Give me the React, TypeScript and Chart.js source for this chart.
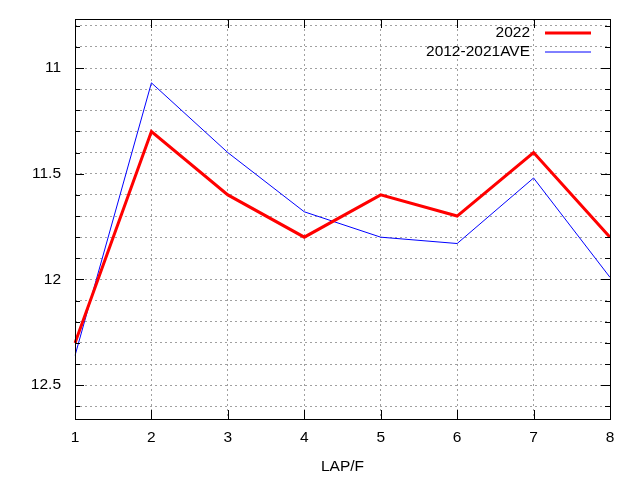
import React, { useEffect, useRef } from "react";
import { Chart, registerables } from "chart.js";

Chart.register(...registerables);

const CATEGORIES = ["1", "2", "3", "4", "5", "6", "7", "8"];
const SERIES_2022 = [12.3, 11.3, 11.6, 11.8, 11.6, 11.7, 11.4, 11.8];
const SERIES_AVE = [12.36, 11.07, 11.4, 11.68, 11.8, 11.83, 11.52, 11.99];
const Y_GRID = [10.8, 10.9, 11.0, 11.1, 11.2, 11.3, 11.4, 11.5, 11.6, 11.7, 11.8, 11.9, 12.0, 12.1, 12.2, 12.3, 12.4, 12.5, 12.6];
const Y_LABELS = [11, 11.5, 12, 12.5];
const Y_MIN = 10.768;
const Y_MAX = 12.66;
const X_TITLE = "LAP/F";

const FONT = "'Liberation Sans', Arial, sans-serif";

const framePlugin = {
  id: "gnuFrame",
  afterDraw(chart: any) {
    const { ctx, chartArea: a, scales } = chart;
    ctx.save();
    ctx.strokeStyle = "#000";
    ctx.lineWidth = 1;
    ctx.setLineDash([]);
    ctx.beginPath();
    scales.y.ticks.forEach((t: any) => {
      const y = Math.round(scales.y.getPixelForValue(t.value)) + 0.5;
      const major = Y_LABELS.some((v) => Math.abs(v - t.value) < 1e-6);
      const len = major ? 9 : 5;
      ctx.moveTo(a.left, y);
      ctx.lineTo(a.left + len, y);
      ctx.moveTo(a.right, y);
      ctx.lineTo(a.right - len, y);
    });
    CATEGORIES.forEach((_, i) => {
      const x = Math.round(scales.x.getPixelForValue(i)) + 0.5;
      ctx.moveTo(x, a.bottom);
      ctx.lineTo(x, a.bottom - 9);
      ctx.moveTo(x, a.top);
      ctx.lineTo(x, a.top + 9);
    });
    ctx.stroke();
    ctx.strokeRect(Math.round(a.left) + 0.5, Math.round(a.top) + 0.5, Math.round(a.right - a.left), Math.round(a.bottom - a.top));
    ctx.font = `15.5px ${FONT}`;
    ctx.textAlign = "right";
    ctx.textBaseline = "middle";
    ctx.fillStyle = "#000";
    const rows = [33, 52];
    chart.data.datasets.forEach((ds: any, i: number) => {
      const y = rows[i];
      ctx.fillText(ds.label, 530, y);
      ctx.beginPath();
      ctx.strokeStyle = ds.borderColor;
      ctx.lineWidth = ds.borderWidth;
      ctx.moveTo(545, y);
      ctx.lineTo(591, y);
      ctx.stroke();
    });
    ctx.restore();
  },
};

export default function App() {
  const ref = useRef<HTMLCanvasElement | null>(null);
  useEffect(() => {
    if (!ref.current) return;
    const chart = new Chart(ref.current, {
      type: "line",
      data: {
        labels: CATEGORIES,
        datasets: [
          {
            label: "2022",
            data: SERIES_2022,
            borderColor: "#ff0000",
            backgroundColor: "#ff0000",
            borderWidth: 3,
            pointRadius: 0,
            tension: 0,
          },
          {
            label: "2012-2021AVE",
            data: SERIES_AVE,
            borderColor: "#0000ff",
            backgroundColor: "#0000ff",
            borderWidth: 1,
            pointRadius: 0,
            tension: 0,
          },
        ],
      },
      options: {
        animation: false,
        responsive: false,
        devicePixelRatio: 1,
        layout: { padding: { top: 19, right: 30, bottom: 4, left: 0 } },
        plugins: { legend: { display: false }, tooltip: { enabled: false } },
        scales: {
          x: {
            type: "category",
            offset: false,
            grid: { color: "#a0a0a0", drawTicks: false, lineWidth: 1 },
            border: { display: false, dash: [2, 3] },
            ticks: { color: "#000", font: { family: FONT, size: 15.5 }, padding: 9, maxRotation: 0 },
            title: { display: true, text: X_TITLE, color: "#000", font: { family: FONT, size: 15.5 }, padding: { top: 4, bottom: 0 } },
            afterFit(s: any) {
              s.height = 57;
              s.paddingLeft = 0;
              s.paddingRight = 0;
            },
          },
          y: {
            type: "linear",
            reverse: true,
            min: Y_MIN,
            max: Y_MAX,
            afterBuildTicks(s: any) {
              s.ticks = Y_GRID.map((v) => ({ value: v }));
            },
            grid: { color: "#a0a0a0", drawTicks: false, lineWidth: 1 },
            border: { display: false, dash: [2, 3] },
            ticks: {
              color: "#000",
              font: { family: FONT, size: 15.5 },
              padding: 14,
              autoSkip: false,
              callback: (v: any) => {
                const n = Number(v);
                return Y_LABELS.some((l) => Math.abs(l - n) < 1e-6) ? String(Math.round(n * 10) / 10) : "";
              },
            },
            afterFit(s: any) {
              s.width = 75;
              s.paddingTop = 0;
              s.paddingBottom = 0;
            },
          },
        },
      },
      plugins: [framePlugin],
    });
    return () => chart.destroy();
  }, []);
  return (
    <div style={{ position: "absolute", left: 0, top: 0, width: 640, height: 480, background: "#fff" }}>
      <canvas ref={ref} width={640} height={480} style={{ display: "block" }} />
    </div>
  );
}
